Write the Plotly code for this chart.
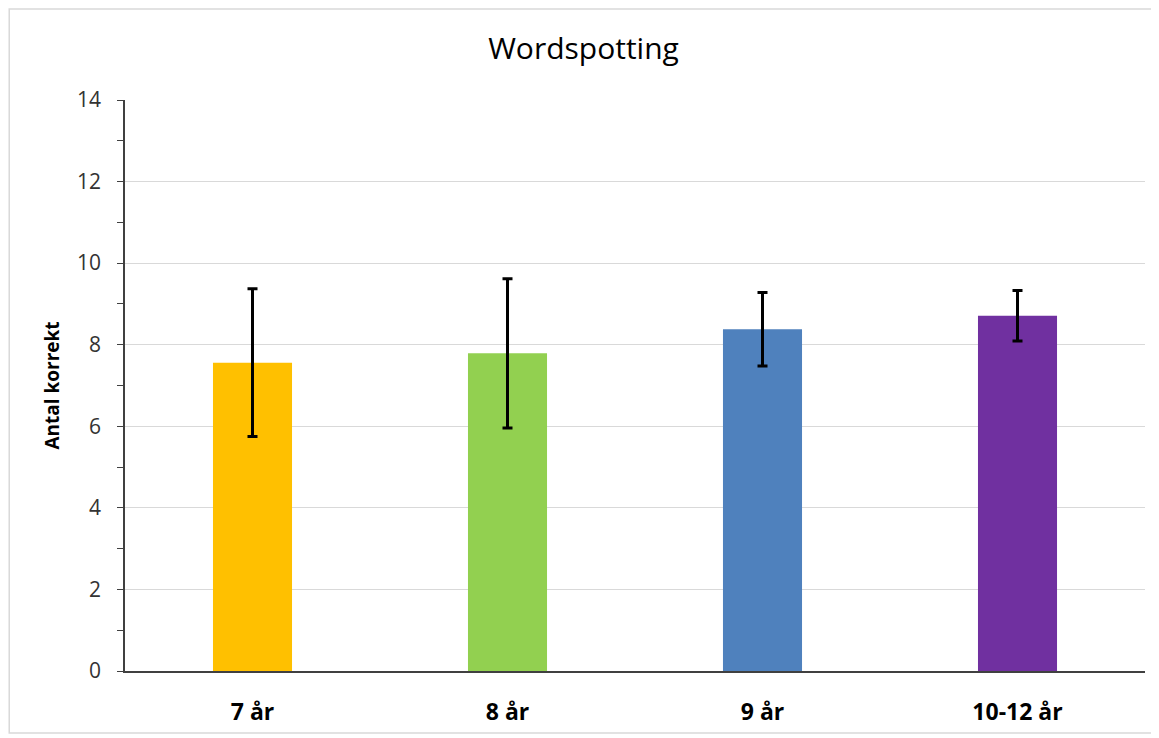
import plotly.graph_objects as go

categories = ["7 år", "8 år", "9 år", "10-12 år"]
means = [7.56, 7.79, 8.38, 8.71]
errors = [1.81, 1.83, 0.90, 0.62]
colors = ["#FFC000", "#92D050", "#4F81BD", "#7030A0"]

font_family = "Open Sans, Liberation Sans, sans-serif"

fig = go.Figure(go.Bar(
    x=categories, y=means,
    marker=dict(color=colors, line=dict(width=0)),
    width=0.31,
    error_y=dict(type="data", array=errors, visible=True, color="black", thickness=3, width=5),
))

fig.update_layout(
    width=1151, height=730,
    margin=dict(l=117, r=14, t=92, b=67),
    paper_bgcolor="white", plot_bgcolor="white",
    title=dict(text="Wordspotting", x=0.5, xanchor="center", y=0.945, yanchor="middle",
               font=dict(family=font_family, size=30, color="black")),
    showlegend=False,
    xaxis=dict(showline=True, linecolor="#404040", linewidth=1.5, ticks="",
               tickfont=dict(family=font_family, size=23, color="black", weight="bold"),
               ticklabelstandoff=20, fixedrange=True),
    yaxis=dict(range=[0, 14], tickvals=[0, 2, 4, 6, 8, 10, 12, 14], showline=True,
               linecolor="#404040", linewidth=1.5, ticks="outside", ticklen=6, tickcolor="#404040",
               gridcolor="#D9D9D9", gridwidth=1.2, zeroline=False,
               minor=dict(tickvals=[1, 3, 5, 7, 9, 11, 13], ticks="outside", ticklen=6, tickcolor="#404040", showgrid=False),
               tickfont=dict(family=font_family, size=21, color="#333333"),
               ticklabelstandoff=12,
               title=dict(text="Antal korrekt", standoff=12,
                          font=dict(family=font_family, size=19, color="black", weight="bold"))),
    shapes=[dict(type="rect", xref="paper", yref="paper", x0=-0.1135, x1=1.0078, y0=-0.1086, y1=1.1595,
                 line=dict(color="#D9D9D9", width=1.5), fillcolor="rgba(0,0,0,0)", layer="below")],
)

fig.write_html("out.html")
